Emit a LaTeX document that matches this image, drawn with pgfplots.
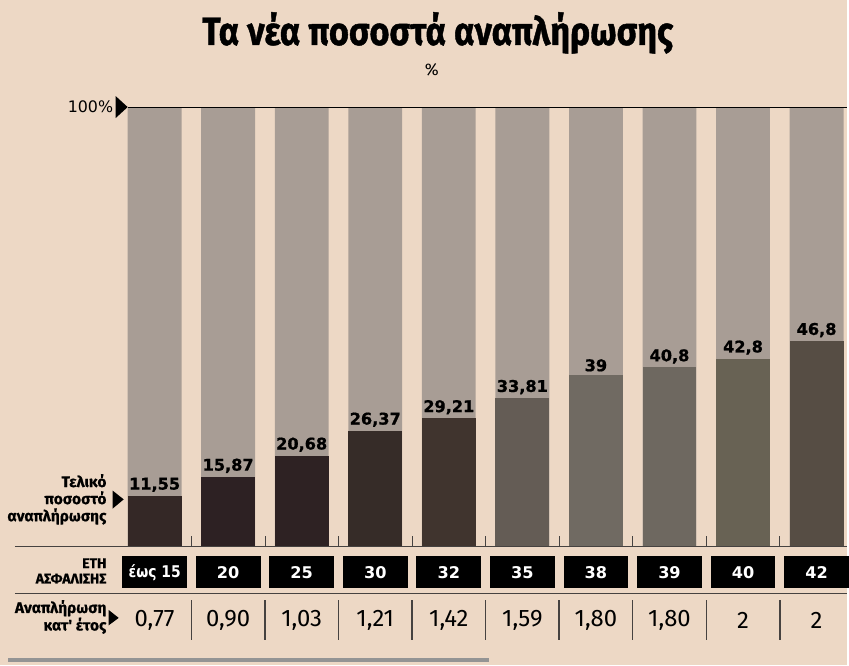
\documentclass[border=0pt]{standalone}
\usepackage{pgfplots}
\pgfplotsset{compat=1.18}
\usepackage{pgfplotstable}
\usepackage{fontspec}
\setmainfont{Fira Sans}
\newfontfamily\dvs{DejaVu Sans}
\newfontfamily\dvsh{DejaVu Sans}[FakeBold=1]
\newfontfamily\titlefont{Fira Sans}[FakeBold=1.2]
\newfontfamily\labfont{Fira Sans}[FakeBold=0.6]

\definecolor{bg}{HTML}{EDD8C5}
\definecolor{topgrey}{HTML}{A89D95}
\definecolor{cA}{RGB}{52,40,38}
\definecolor{cB}{RGB}{45,33,35}
\definecolor{cC}{RGB}{46,34,35}
\definecolor{cD}{RGB}{54,44,40}
\definecolor{cE}{RGB}{64,52,46}
\definecolor{cF}{RGB}{100,92,85}
\definecolor{cG}{RGB}{112,106,98}
\definecolor{cH}{RGB}{110,104,96}
\definecolor{cI}{RGB}{104,98,84}
\definecolor{cJ}{RGB}{86,77,68}
\definecolor{linegrey}{RGB}{70,66,64}

\pgfplotstableread{
x y lab
0 11.55 {11,55}
1 15.87 {15,87}
2 20.68 {20,68}
3 26.37 {26,37}
4 29.21 {29,21}
5 33.81 {33,81}
6 39 {39}
7 40.8 {40,8}
8 42.8 {42,8}
9 46.8 {46,8}
}\finaltable

\pgfplotstableread{
x y lab
0 -5.9 {\scalebox{0.86}[1]{έως 15}}
1 -5.9 {20}
2 -5.9 {25}
3 -5.9 {30}
4 -5.9 {32}
5 -5.9 {35}
6 -5.9 {38}
7 -5.9 {39}
8 -5.9 {40}
9 -5.9 {42}
}\yearstable

\pgfplotstableread{
x y lab
0 -16.8 {0,77}
1 -16.8 {0,90}
2 -16.8 {1,03}
3 -16.8 {1,21}
4 -16.8 {1,42}
5 -16.8 {1,59}
6 -16.8 {1,80}
7 -16.8 {1,80}
8 -16.8 {2}
9 -16.8 {2}
}\ratetable

\begin{document}
\begin{tikzpicture}
\begin{axis}[
  x=1.84375cm, y=0.11cm,
  xmin=-2.1017, xmax=9.41, ymin=-27.05, ymax=124.5,
  hide axis, clip=false,
]
% background
\fill[bg] (rel axis cs:0,0) rectangle (rel axis cs:1,1);

% full (100%) bars
\addplot[ybar, bar width=0.732, bar shift=0pt, fill=topgrey, draw=none]
  coordinates {(0,100) (1,100) (2,100) (3,100) (4,100) (5,100) (6,100) (7,100) (8,100) (9,100)};

% final replacement rate bars
\addplot[ybar, bar width=0.732, bar shift=0pt, fill=cA, draw=none] coordinates {(0,11.55)};
\addplot[ybar, bar width=0.732, bar shift=0pt, fill=cB, draw=none] coordinates {(1,15.87)};
\addplot[ybar, bar width=0.732, bar shift=0pt, fill=cC, draw=none] coordinates {(2,20.68)};
\addplot[ybar, bar width=0.732, bar shift=0pt, fill=cD, draw=none] coordinates {(3,26.37)};
\addplot[ybar, bar width=0.732, bar shift=0pt, fill=cE, draw=none] coordinates {(4,29.21)};
\addplot[ybar, bar width=0.732, bar shift=0pt, fill=cF, draw=none] coordinates {(5,33.81)};
\addplot[ybar, bar width=0.732, bar shift=0pt, fill=cG, draw=none] coordinates {(6,39)};
\addplot[ybar, bar width=0.732, bar shift=0pt, fill=cH, draw=none] coordinates {(7,40.8)};
\addplot[ybar, bar width=0.732, bar shift=0pt, fill=cI, draw=none] coordinates {(8,42.8)};
\addplot[ybar, bar width=0.732, bar shift=0pt, fill=cJ, draw=none] coordinates {(9,46.8)};

% value labels
\addplot[draw=none, mark=none, nodes near coords, point meta=explicit symbolic,
  nodes near coords style={font=\dvsh\bfseries\fontsize{11.5}{12}\selectfont, anchor=south, inner sep=2.5pt, text=black}]
  table[x=x, y=y, meta=lab] {\finaltable};

% years boxes
\addplot[draw=none, mark=none, nodes near coords, point meta=explicit symbolic,
  nodes near coords style={font=\dvs\bfseries\fontsize{11.5}{12}\selectfont, anchor=center, fill=black, text=white,
    minimum width=1.625cm, minimum height=0.8cm, inner sep=0pt}]
  table[x=x, y=y, meta=lab] {\yearstable};

% annual rate
\addplot[draw=none, mark=none, nodes near coords, point meta=explicit symbolic,
  nodes near coords style={font=\fontsize{17}{18}\selectfont, anchor=center, text=black}]
  table[x=x, y=y, meta=lab] {\ratetable};

% lines
\draw[black, line width=0.7pt] (axis cs:-0.366,100) -- (axis cs:9.41,100);
\fill[black] (axis cs:-0.529,102.6) -- (axis cs:-0.366,100.1) -- (axis cs:-0.529,97.6) -- cycle;
\node[anchor=east, font=\dvs\fontsize{11.3}{12}\selectfont, inner sep=0pt] at (axis cs:-0.56,100.2) {100\%};

\draw[linegrey, line width=0.8pt] (axis cs:-1.898,0) -- (axis cs:9.41,0);
\draw[linegrey, line width=0.6pt] (axis cs:-1.898,-10.7) -- (axis cs:9.41,-10.7);
\draw[black!42, line width=3pt] (axis cs:-1.99,-25.9) -- (axis cs:4.55,-25.9);

\pgfplotsinvokeforeach{0.5,1.5,2.5,3.5,4.5,5.5,6.5,7.5,8.5}{
  \draw[linegrey, line width=0.6pt] (axis cs:#1,0) -- (axis cs:#1,2.4);
  \draw[linegrey, line width=1pt] (axis cs:#1,-12.3) -- (axis cs:#1,-21.4);
}

% left labels
\node[anchor=east, align=right, font=\labfont\bfseries\fontsize{11}{12.2}\selectfont, inner sep=0pt]
  at (axis cs:-0.651,10.7) {Τελικό\\ποσοστό\\αναπλήρωσης};
\fill[black] (axis cs:-0.57,12.7) -- (axis cs:-0.42,10.7) -- (axis cs:-0.57,8.6) -- cycle;

\node[anchor=east, align=right, font=\labfont\bfseries\fontsize{10}{11}\selectfont, inner sep=0pt]
  at (axis cs:-0.651,-5.6) {ΕΤΗ\\ΑΣΦΑΛΙΣΗΣ};

\node[anchor=east, align=right, font=\labfont\bfseries\fontsize{11}{12.5}\selectfont, inner sep=0pt]
  at (axis cs:-0.651,-16.1) {Αναπλήρωση\\κατ' έτος};
\fill[black] (axis cs:-0.624,-14.5) -- (axis cs:-0.488,-16.3) -- (axis cs:-0.624,-18.0) -- cycle;

% title
\node[font=\titlefont\bfseries\fontsize{28}{32}\selectfont] at (axis cs:3.85,117.0)
  {\scalebox{0.87}[1]{Τα νέα ποσοστά αναπλήρωσης}};
\node[font=\fontsize{12}{12}\selectfont] at (axis cs:3.77,108.6) {\%};
\end{axis}
\end{tikzpicture}
\end{document}
